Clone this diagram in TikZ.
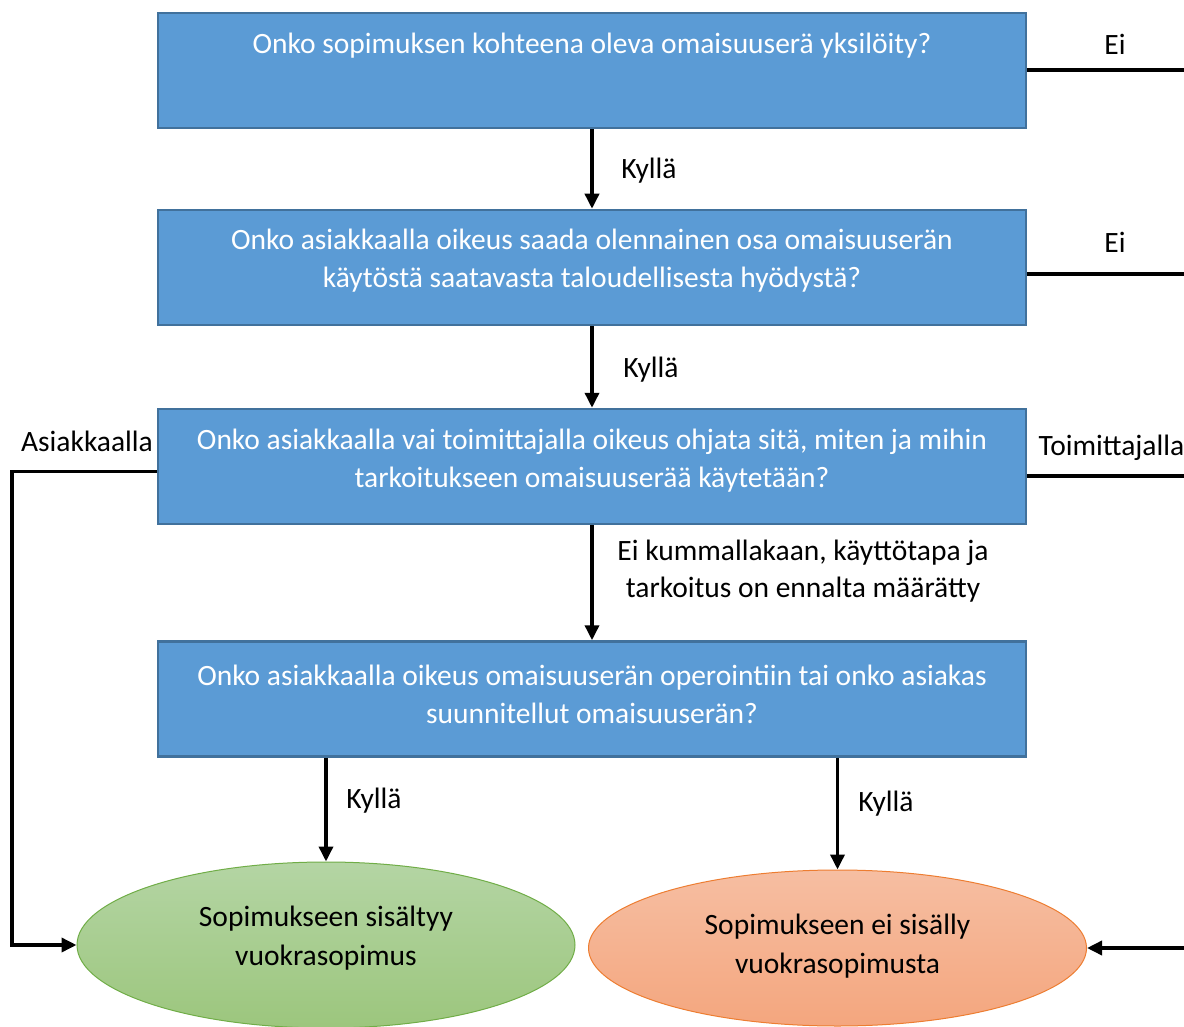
\documentclass[tikz,border=0pt]{standalone}
\usepackage{fontspec}
\setmainfont{Carlito}
\usepackage{tikz}
\usetikzlibrary{arrows.meta, shapes, positioning}
\definecolor{boxblue}{HTML}{5B9BD5}
\definecolor{boxedge}{HTML}{41719C}
\definecolor{leasetop}{HTML}{B4D5A4}
\definecolor{leasebottom}{HTML}{9CC67D}
\definecolor{leaseedge}{HTML}{70AD47}
\definecolor{nonetop}{HTML}{F6BEA2}
\definecolor{nonebottom}{HTML}{F4A67E}
\definecolor{noneedge}{HTML}{ED7D31}
\tikzstyle{question} = [rectangle, draw=boxedge, line width=2.5pt, fill=boxblue, minimum width=868pt,
                        minimum height=115pt, inner sep=0]
\tikzstyle{qtext} = [text=white, align=center, font=\fontsize{29.5}{38}\selectfont]
\tikzstyle{result} = [ellipse, line width=1pt, minimum width=498pt, align=center, inner sep=0,
                      text depth=18pt, font=\fontsize{29.5}{39}\selectfont]
\tikzstyle{answer} = [font=\fontsize{29.5}{37}\selectfont, align=center]
\tikzstyle{flow} = [line width=3.5pt, -{Triangle[length=15pt, width=14pt]}]
\tikzstyle{wire} = [line width=3.5pt]

\begin{document}
\begin{tikzpicture}[x=1pt, y=-1pt]
	\clip (0, 0) rectangle (1184, 1027);

	\coordinate (Edge) at (1184, 0);

	\node (Q1) [question] at (592, 70.5) {};
	\node (Q1Text) [qtext] at (592, 45.5) {Onko sopimuksen kohteena oleva omaisuuserä yksilöity?};

	\node (Q2) [question] at (592, 267.5) {};
	\node (Q2Text) [qtext] at (592, 261) {Onko asiakkaalla oikeus saada olennainen osa omaisuuserän\\käytöstä saatavasta taloudellisesta hyödystä?};

	\node (Q3) [question] at (592, 466.5) {};
	\node (Q3Text) [qtext] at (592, 461) {Onko asiakkaalla vai toimittajalla oikeus ohjata sitä, miten ja mihin\\tarkoitukseen omaisuuserää käytetään?};

	\node (Q4) [question] at (592, 699) {};
	\node (Q4Text) [qtext] at (592, 694) {Onko asiakkaalla oikeus omaisuuserän operointiin tai onko asiakas\\suunnitellut omaisuuserän?};

	\node (Lease) [result, draw=leaseedge, top color=leasetop, bottom color=leasebottom,
	               minimum height=166pt] at (326, 945) {Sopimukseen sisältyy\\vuokrasopimus};
	\node (NoLease) [result, draw=noneedge, top color=nonetop, bottom color=nonebottom,
	                 minimum height=156pt, text depth=8pt] at (837.5, 948) {Sopimukseen ei sisälly\\vuokrasopimusta};

	% down the middle
	\draw [flow] (Q1) -- (Q2);
	\node (Yes1) [answer] at (649, 171) {Kyllä};
	\draw [flow] (Q2) -- (Q3);
	\node (Yes2) [answer] at (651, 370) {Kyllä};
	\draw [flow] (Q3) -- (Q4);
	\node (Neither) [answer] at (803, 571) {Ei kummallakaan, käyttötapa ja\\tarkoitus on ennalta määrätty};

	\draw [flow] (Q4.south -| Lease.north) -- (Lease.north);
	\node (Yes3) [answer] at (374, 801) {Kyllä};
	\draw [flow] (Q4.south -| NoLease.north) -- (NoLease.north);
	\node (Yes4) [answer] at (886, 804) {Kyllä};

	% left side
	\coordinate (LeftBend) at (12, 945);
	\draw [flow] ([yshift=-5pt]Q3.west) -| (LeftBend) -- (Lease.west);
	\node (Customer) [answer] at (87, 441) {Asiakkaalla};

	% right side
	\draw [wire] ([yshift=0.5pt]Q1.east) -- ([yshift=0.5pt]Q1.east -| Edge);
	\node (No1) [answer] at (1115, 44) {Ei};
	\draw [wire] ([yshift=-6.5pt]Q2.east) -- ([yshift=-6.5pt]Q2.east -| Edge);
	\node (No2) [answer] at (1115, 242) {Ei};
	\draw [wire] ([yshift=-9.5pt]Q3.east) -- ([yshift=-9.5pt]Q3.east -| Edge);
	\node (Supplier) [answer, anchor=west] at (1035, 448) {Toimittajalla};
	\draw [flow] (NoLease.east -| Edge) -- (NoLease.east);
\end{tikzpicture}
\end{document}
